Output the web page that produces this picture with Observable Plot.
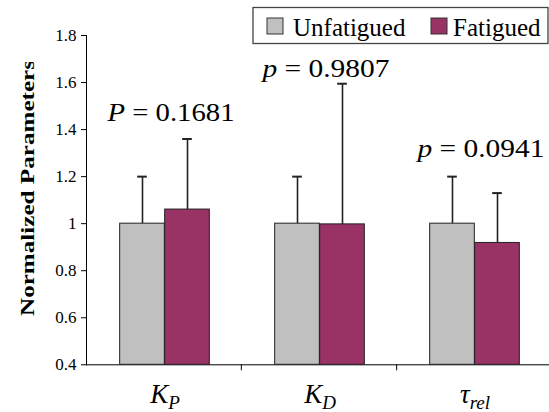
<!DOCTYPE html>
<html><head><meta charset="utf-8">
<script src="https://cdn.jsdelivr.net/npm/d3@7"></script>
<script src="https://cdn.jsdelivr.net/npm/@observablehq/plot@0.6"></script>
<style>
body{margin:0;background:#fff;}
#chart{position:relative;width:549px;height:412px;overflow:hidden;}
#chart svg text{font-family:'Liberation Serif','Times New Roman',serif !important;}
</style></head><body><div id="chart"></div>
<script>
// ---- data ----
const categories = ["K_P", "K_D", "τ_rel"];
const seriesNames = ["Unfatigued", "Fatigued"];
const unfatigued = [1.0, 1.0, 1.0];
const fatigued = [1.06, 0.997, 0.918];
const unfatiguedErr = [0.2, 0.2, 0.2];
const fatiguedErr = [0.30, 0.598, 0.212];
const pLabels = ["P = 0.1681", "p = 0.9807", "p = 0.0941"];
const pLabelY = [1.474, 1.661, 1.317];
const yTicks = [0.4, 0.6, 0.8, 1.0, 1.2, 1.4, 1.6, 1.8];
const colors = ["#C0C0C0", "#993366"];
const yTitle = "Normalized Parameters";

// ---- layout ----
const W = 549, H = 412, ML = 86, MR = -3, MT = 35, MB = 47.7;
const bw = (W - ML - MR) / categories.length;
const barW = 45, capHalf = 5;
const FONT = "'Liberation Serif', 'Times New Roman', serif";

const rows = categories.flatMap((c, i) => [
  {category: c, series: seriesNames[0], value: unfatigued[i], hi: unfatigued[i] + unfatiguedErr[i]},
  {category: c, series: seriesNames[1], value: fatigued[i], hi: fatigued[i] + fatiguedErr[i]}
]);
const U = rows.filter(d => d.series === seriesNames[0]);
const F = rows.filter(d => d.series === seriesNames[1]);
const pData = categories.map((c, i) => ({category: c, label: pLabels[i], y: pLabelY[i]}));

const errStyle = {stroke: "#222", strokeWidth: 1.6};
const chart = Plot.plot({
  width: W, height: H,
  marginLeft: ML, marginRight: MR, marginTop: MT, marginBottom: MB,
  style: {background: "#fff", overflow: "visible"},
  x: {domain: categories, padding: 0, tickSize: 0, tickPadding: 19.5, line: true, label: null},
  y: {domain: [yTicks[0], yTicks[yTicks.length - 1]], ticks: yTicks, tickFormat: d => String(+d.toFixed(1)),
      tickSize: 5, tickPadding: 5, line: true, label: null},
  color: {domain: seriesNames, range: colors},
  marks: [
    Plot.barY(U, {x: "category", y1: () => yTicks[0], y2: "value", fill: "series", stroke: "#222", strokeWidth: 1,
                  insetLeft: bw / 2 - barW, insetRight: bw / 2}),
    Plot.barY(F, {x: "category", y1: () => yTicks[0], y2: "value", fill: "series", stroke: "#222", strokeWidth: 1,
                  insetLeft: bw / 2, insetRight: bw / 2 - barW}),
    Plot.ruleX(U, {x: "category", y1: "value", y2: "hi", dx: -barW / 2, ...errStyle}),
    Plot.ruleX(F, {x: "category", y1: "value", y2: "hi", dx: barW / 2, ...errStyle}),
    Plot.tickY(U, {x: "category", y: "hi", dx: -barW / 2, insetLeft: bw / 2 - capHalf, insetRight: bw / 2 - capHalf, stroke: "#222", strokeWidth: 2}),
    Plot.tickY(F, {x: "category", y: "hi", dx: barW / 2, insetLeft: bw / 2 - capHalf, insetRight: bw / 2 - capHalf, stroke: "#222", strokeWidth: 2}),
    Plot.text(pData, {x: "category", y: "y", text: "label", dx: 6, fontSize: 26, fill: "#000"})
  ]
});

const svgEl = chart.tagName.toLowerCase() === "svg" ? chart : chart.querySelector("svg");
const svg = d3.select(svgEl);
svg.attr("font-size", 17).style("font-size", "17px");

// category labels with subscripts, p labels with italic letter
svg.selectAll("text").each(function () {
  const t = this.textContent;
  const sel = d3.select(this);
  if (categories.includes(t)) {
    const [main, sub] = t.split("_");
    sel.text(null).attr("font-size", 27).attr("font-style", "italic");
    sel.append("tspan").text(main);
    sel.append("tspan").attr("font-size", 19).attr("dy", "0.3em").text(sub);
  } else if (pLabels.includes(t)) {
    const first = t.slice(0, 1), rest = t.slice(1);
    sel.text(null);
    sel.append("tspan").attr("font-style", "italic").text(first);
    sel.append("tspan").text(rest);
    sel.attr("textLength", 127).attr("lengthAdjust", "spacingAndGlyphs");
  }
});

// category separator ticks from the x scale
const xs = chart.scale("x"), ys = chart.scale("y");
const step = (xs.range[1] - xs.range[0]) / xs.domain.length;
const y0 = ys.range[0];
const sep = svg.append("g").attr("stroke", "#000").attr("stroke-width", 1);
for (let i = 1; i < xs.domain.length; i++) {
  const x = xs.range[0] + step * i;
  sep.append("line").attr("x1", x).attr("x2", x).attr("y1", y0).attr("y2", y0 + 6);
}

// y title (rotated, bold), clipped at top like the reference
svg.append("defs").append("clipPath").attr("id", "ttlclip")
  .append("rect").attr("x", 0).attr("y", 62).attr("width", 60).attr("height", 320);
svg.append("g").attr("clip-path", "url(#ttlclip)")
  .append("text")
  .attr("transform", "translate(34,316) rotate(-90)")
  .attr("text-anchor", "start")
  .attr("font-weight", "bold").attr("font-size", 19)
  .attr("textLength", 256).attr("lengthAdjust", "spacingAndGlyphs")
  .attr("fill", "#000")
  .text(yTitle);

// legend (boxed, top right)
const cs = chart.scale("color");
const lg = svg.append("g").attr("font-size", 25).attr("text-anchor", "start");
lg.append("rect").attr("x", 253).attr("y", 7.5).attr("width", 295).attr("height", 36)
  .attr("fill", "#fff").attr("stroke", "#444").attr("stroke-width", 1.3);
const legendPos = [{sx: 267, tx: 293}, {sx: 431, tx: 453}];
cs.domain.forEach((name, i) => {
  lg.append("rect").attr("x", legendPos[i].sx).attr("y", 18).attr("width", 16).attr("height", 16)
    .attr("fill", cs.range[i]).attr("stroke", "#333").attr("stroke-width", 1);
  lg.append("text").attr("x", legendPos[i].tx).attr("y", 36).attr("fill", "#000").text(name);
});

document.getElementById("chart").appendChild(chart);
</script>
</body></html>
